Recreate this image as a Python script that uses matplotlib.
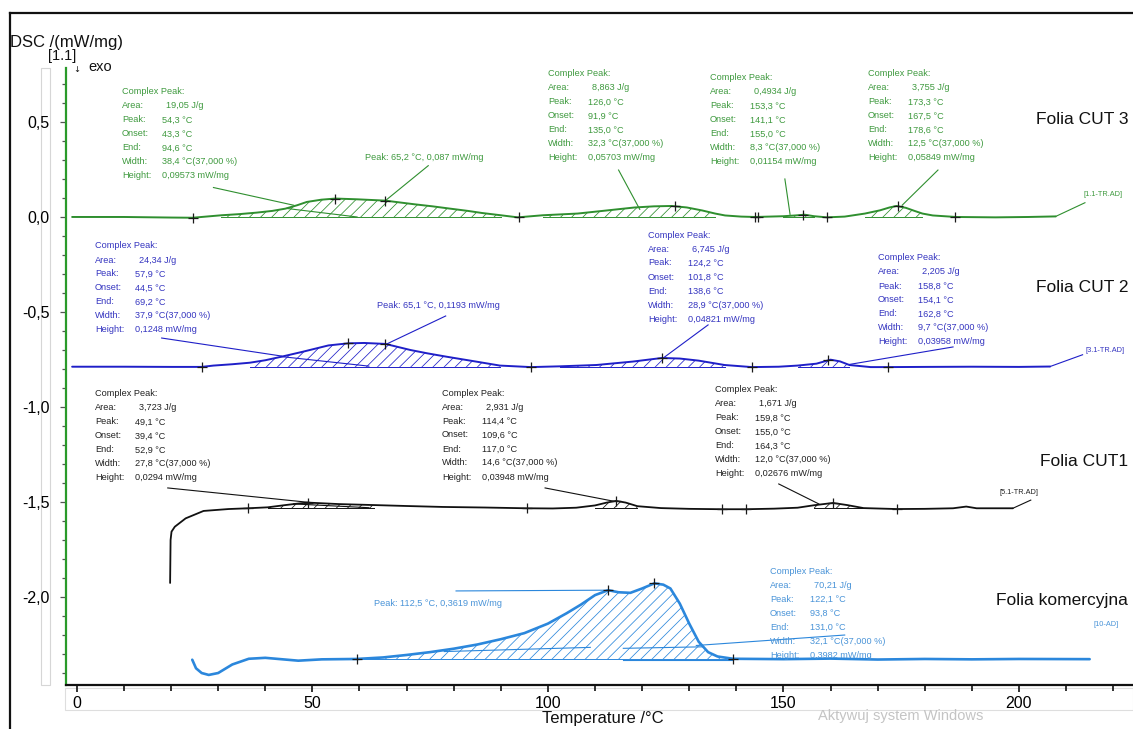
import matplotlib
matplotlib.use("Agg")
import matplotlib.pyplot as plt
import numpy as np
from matplotlib.lines import Line2D
from matplotlib.patches import Rectangle
from matplotlib.ticker import MultipleLocator, FuncFormatter

plt.rcParams['font.family'] = ['Liberation Sans', 'DejaVu Sans']
plt.rcParams['hatch.linewidth'] = 0.55

W, H = 1133, 729

# ---------------- data ----------------
green_T = [-1, 10, 20, 24.6, 30.7, 34.5, 38.2, 41.5, 44.3, 46.8, 48.8, 51.9, 54.9, 59.5, 65.5, 71.6,
           75.5, 79.2, 83, 86, 90, 93.6, 98.9, 106.3, 112, 118.4, 122.5, 126.3, 129.5, 132.8, 135.5,
           137.6, 141, 144, 150, 152.5, 154.5, 156.5, 159.2, 163, 167.3, 170.5, 172.5, 174, 176,
           177.7, 179.5, 181.7, 186.6, 195, 202, 207.8]
green_y = [0.0, 0.0, -0.003, -0.004, 0.009, 0.015, 0.023, 0.032, 0.044, 0.062, 0.079, 0.091, 0.097,
           0.093, 0.086, 0.067, 0.056, 0.044, 0.032, 0.021, 0.009, -0.002, 0.009, 0.018, 0.033, 0.050,
           0.056, 0.058, 0.050, 0.034, 0.018, 0.008, 0.002, 0.0, 0.004, 0.008, 0.012, 0.004, -0.002,
           0.002, 0.018, 0.035, 0.050, 0.058, 0.048, 0.033, 0.018, 0.008, 0.0, -0.002, 0.0, 0.003]

blue_T = [-1, 10, 20, 26.5, 29, 33, 36.7, 40, 43.5, 48, 53.4, 57.6, 61, 65.5, 70.8, 74.5, 78.4,
          84.5, 89.8, 96.4, 102.5, 110.3, 118, 124.2, 128, 132, 137.5, 143.3, 149, 153, 157, 160,
          162, 164, 168.5, 172.2, 180, 190, 200, 206.6]
blue_y = [-0.788, -0.788, -0.789, -0.789, -0.782, -0.775, -0.767, -0.754, -0.735, -0.709, -0.676,
          -0.665, -0.663, -0.668, -0.700, -0.718, -0.735, -0.760, -0.782, -0.790, -0.786, -0.779,
          -0.761, -0.742, -0.745, -0.756, -0.779, -0.790, -0.788, -0.782, -0.772, -0.751, -0.760,
          -0.779, -0.790, -0.790, -0.789, -0.788, -0.789, -0.787]

black_T = [19.8, 19.9, 20.1, 20.8, 23.1, 26.9, 32.2, 36.3, 40.5, 44.3, 47, 49, 51.5, 55.7, 63, 70,
           77.7, 86.6, 95.5, 101, 106, 110, 112.5, 114.5, 116.5, 119, 124, 130, 137, 142, 148, 153,
           156.5, 160.5, 163.5, 167, 174, 180, 186, 188.8, 191, 198.7]
black_y = [-1.926, -1.700, -1.656, -1.630, -1.586, -1.547, -1.537, -1.533, -1.528, -1.516, -1.508,
           -1.503, -1.506, -1.511, -1.516, -1.521, -1.526, -1.529, -1.533, -1.534, -1.530, -1.518,
           -1.503, -1.494, -1.503, -1.522, -1.532, -1.536, -1.538, -1.538, -1.535, -1.530, -1.517,
           -1.505, -1.516, -1.532, -1.537, -1.536, -1.533, -1.524, -1.533, -1.533]

com_T = [24.5, 25.3, 26.5, 28, 30, 33, 36.5, 40, 47, 52, 59.4, 65, 70, 75, 80, 85, 90, 95, 100,
         104, 107, 110, 112.8, 115, 117.5, 120, 122.6, 124.5, 126, 128, 130, 132, 134, 136, 139.3,
         150, 160, 170, 180, 190, 200, 215]
com_y = [-2.330, -2.375, -2.400, -2.410, -2.400, -2.355, -2.325, -2.320, -2.335, -2.328, -2.326,
         -2.318, -2.305, -2.290, -2.272, -2.250, -2.222, -2.190, -2.140, -2.085, -2.040, -1.990,
         -1.964, -1.975, -1.978, -1.955, -1.928, -1.935, -1.955, -2.035, -2.140, -2.235, -2.290,
         -2.313, -2.325, -2.327, -2.324, -2.329, -2.326, -2.328, -2.326, -2.327]

# baselines and hatched (integrated) ranges
green_base, blue_base, black_base, com_base = 0.0, -0.789, -1.533, -2.326
green_hatch = [(30.7, 90), (98.9, 135.5), (150, 156.5), (167.3, 179.5)]
blue_hatch = [(36.7, 89.8), (102.5, 137.5), (153, 164)]
black_hatch = [(40.5, 63), (110, 119), (156.5, 167)]
com_hatch = [(59.4, 139.3)]

# evaluation markers
green_mT = [24.6, 54.9, 65.5, 93.8, 127, 144, 144.7, 154.2, 159.2, 174.3, 186.4]
green_mY = [-0.004, 0.097, 0.086, -0.002, 0.057, 0.0, 0.0, 0.012, -0.002, 0.058, 0.0]
blue_mT = [26.5, 57.6, 65.5, 96.4, 124.2, 143.3, 159.5, 172.2]
blue_mY = [-0.789, -0.665, -0.668, -0.790, -0.742, -0.790, -0.751, -0.790]
black_mT = [36.3, 49, 95.5, 114.5, 137, 142, 160.5, 174]
black_mY = [-1.533, -1.503, -1.533, -1.494, -1.538, -1.538, -1.505, -1.537]
com_mT = [59.4, 112.8, 122.6, 139.3]
com_mY = [-2.326, -1.964, -1.928, -2.325]

row_names = ["Complex Peak:", "Area:", "Peak:", "Onset:", "End:", "Width:", "Height:"]
green_blocks = [
    ["19,05 J/g", "54,3 °C", "43,3 °C", "94,6 °C", "38,4 °C(37,000 %)", "0,09573 mW/mg"],
    ["8,863 J/g", "126,0 °C", "91,9 °C", "135,0 °C", "32,3 °C(37,000 %)", "0,05703 mW/mg"],
    ["0,4934 J/g", "153,3 °C", "141,1 °C", "155,0 °C", "8,3 °C(37,000 %)", "0,01154 mW/mg"],
    ["3,755 J/g", "173,3 °C", "167,5 °C", "178,6 °C", "12,5 °C(37,000 %)", "0,05849 mW/mg"],
]
blue_blocks = [
    ["24,34 J/g", "57,9 °C", "44,5 °C", "69,2 °C", "37,9 °C(37,000 %)", "0,1248 mW/mg"],
    ["6,745 J/g", "124,2 °C", "101,8 °C", "138,6 °C", "28,9 °C(37,000 %)", "0,04821 mW/mg"],
    ["2,205 J/g", "158,8 °C", "154,1 °C", "162,8 °C", "9,7 °C(37,000 %)", "0,03958 mW/mg"],
]
black_blocks = [
    ["3,723 J/g", "49,1 °C", "39,4 °C", "52,9 °C", "27,8 °C(37,000 %)", "0,0294 mW/mg"],
    ["2,931 J/g", "114,4 °C", "109,6 °C", "117,0 °C", "14,6 °C(37,000 %)", "0,03948 mW/mg"],
    ["1,671 J/g", "159,8 °C", "155,0 °C", "164,3 °C", "12,0 °C(37,000 %)", "0,02676 mW/mg"],
]
com_blocks = [
    ["70,21 J/g", "122,1 °C", "93,8 °C", "131,0 °C", "32,1 °C(37,000 %)", "0,3982 mW/mg"],
]
peak_labels = ["Peak: 65,2 °C, 0,087 mW/mg", "Peak: 65,1 °C, 0,1193 mW/mg",
               "Peak: 112,5 °C, 0,3619 mW/mg"]
series_names = ["Folia CUT 3", "Folia CUT 2", "Folia CUT1", "Folia komercyjna"]
segment_tags = ["[1.1-TR.AD]", "[3.1-TR.AD]", "[5.1-TR.AD]", "[10-AD]"]

# leader lines (data coords)
green_leaders = [((29, 0.155), (46, 0.062)), ((44.5, 0.045), (59.5, 0.0)),
                 ((74.6, 0.27), (65.6, 0.088)), ((115, 0.247), (119.5, 0.04)),
                 ((150.3, 0.20), (151.4, 0.014)), ((182.8, 0.247), (175.2, 0.062)),
                 ((207.8, 0.003), (214, 0.075))]
blue_leaders = [((18, -0.637), (43.5, -0.732)), ((43.5, -0.735), (62, -0.785)),
                ((78.3, -0.521), (65.9, -0.667)), ((134, -0.568), (124.6, -0.740)),
                ((186, -0.684), (164, -0.776)), ((206.6, -0.787), (213.5, -0.725))]
black_leaders = [((19.3, -1.426), (49.7, -1.503)), ((46, -1.510), (62, -1.530)),
                 ((99.4, -1.426), (114.2, -1.497)), ((149, -1.405), (157.5, -1.510)),
                 ((198.7, -1.533), (202.5, -1.490))]
com_leaders = [((80.5, -1.968), (112.8, -1.964)), ((131.5, -2.255), (163, -2.200)),
               ((78, -2.287), (109, -2.265)), ((116, -2.270), (133, -2.262)),
               ((116, -2.331), (139.3, -2.331))]

# ---------------- figure ----------------
def fx(px):
    return px / W

def fy(py):
    return 1 - py / H

fig = plt.figure(figsize=(W / 100, H / 100), dpi=100)
fig.patch.set_facecolor('white')
ax = fig.add_axes([fx(66), fy(685), 1 - fx(66), (685 - 68) / H])
ax.set_xlim(-2.3, 224.2)
ax.set_ylim(-2.463, 0.784)
ax.set_facecolor('none')

GREEN, GREEN_T = '#2f8f2f', '#3f9a3f'
BLUE, BLUE_T = '#1f1fc8', '#3535c0'
BLACK, BLACK_T = '#111111', '#222222'
COM, COM_T = '#2b87dc', '#4a94d8'
MARK = '#1a1a1a'

curves = [
    (green_T, green_y, green_base, green_hatch, GREEN, 1.4, green_mT, green_mY),
    (blue_T, blue_y, blue_base, blue_hatch, BLUE, 1.4, blue_mT, blue_mY),
    (black_T, black_y, black_base, black_hatch, BLACK, 1.3, black_mT, black_mY),
    (com_T, com_y, com_base, com_hatch, COM, 1.9, com_mT, com_mY),
]
for T, Y, base, hatches, col, lw, mT, mY in curves:
    T = np.array(T); Y = np.array(Y)
    for a, b in hatches:
        m = (T >= a) & (T <= b)
        ax.fill_between(T[m], Y[m], base, facecolor='none', edgecolor=col,
                        hatch='///', linewidth=0, zorder=2)
        ax.plot([a, b], [base, base], color=col, lw=0.7, zorder=2)
    ax.plot(T, Y, color=col, lw=lw, zorder=3, solid_capstyle='round')
    ax.plot(mT, mY, linestyle='none', marker='+', markersize=7, mew=0.9,
            color=MARK, zorder=4)

for leaders, col in [(green_leaders, GREEN), (blue_leaders, BLUE),
                     (black_leaders, BLACK), (com_leaders, COM)]:
    for (x0, y0), (x1, y1) in leaders:
        ax.plot([x0, x1], [y0, y1], color=col, lw=0.8, zorder=3)

# axes styling
for s in ['top', 'right']:
    ax.spines[s].set_visible(False)
ax.spines['left'].set_color('#2a9a2a')
ax.spines['left'].set_linewidth(1.6)
ax.spines['bottom'].set_color('#111111')
ax.spines['bottom'].set_linewidth(1.6)
ax.xaxis.set_major_locator(MultipleLocator(50))
ax.xaxis.set_minor_locator(MultipleLocator(10))
ax.yaxis.set_major_locator(MultipleLocator(0.5))
ax.yaxis.set_minor_locator(MultipleLocator(0.1))
ax.yaxis.set_major_formatter(FuncFormatter(lambda v, p: f"{v:.1f}".replace('.', ',').replace('-0,0', '0,0')))
ax.xaxis.set_major_formatter(FuncFormatter(lambda v, p: f"{v:.0f}"))
ax.tick_params(axis='y', which='both', direction='out', color='#555555', width=0.9,
               labelsize=11.5, pad=8)
ax.tick_params(axis='y', which='major', length=4)
ax.tick_params(axis='y', which='minor', length=3)
ax.tick_params(axis='x', which='both', direction='out', color='#111111', width=1.2,
               labelsize=11.5, pad=3)
ax.tick_params(axis='x', which='major', length=5)
ax.tick_params(axis='x', which='minor', length=4)

# text blocks
def block(x0, y0, vals, col):
    for i, name in enumerate(row_names):
        fig.text(fx(x0), fy(y0 + 14 * i), name, color=col, fontsize=6.6, va='center', ha='left')
        if i > 0:
            off = 44 if i == 1 else 40
            fig.text(fx(x0 + off), fy(y0 + 14 * i), vals[i - 1], color=col, fontsize=6.6,
                     va='center', ha='left')

for (x0, y0), vals in zip([(122, 92), (548, 74), (710, 78), (868, 74)], green_blocks):
    block(x0, y0, vals, GREEN_T)
for (x0, y0), vals in zip([(95, 246), (648, 235), (878, 258)], blue_blocks):
    block(x0, y0, vals, BLUE_T)
for (x0, y0), vals in zip([(95, 394), (442, 393), (715, 390)], black_blocks):
    block(x0, y0, vals, BLACK_T)
for (x0, y0), vals in zip([(770, 571)], com_blocks):
    block(x0, y0, vals, COM_T)

for (x0, y0), txt, col in zip([(365, 158), (377, 305), (374, 603)], peak_labels,
                              [GREEN_T, BLUE_T, COM_T]):
    fig.text(fx(x0), fy(y0), txt, color=col, fontsize=6.6, va='center', ha='left')

for y0, txt in zip([120, 287, 462, 601], series_names):
    fig.text(fx(1128), fy(y0), txt, color='#111111', fontsize=12.5, va='center', ha='right')

for (x0, y0), txt, col in zip([(1083, 195), (1085, 351), (1000, 493), (1093, 625)],
                              segment_tags, [GREEN_T, BLUE_T, BLACK_T, COM_T]):
    fig.text(fx(x0), fy(y0), txt, color=col, fontsize=5.3, va='center', ha='left')

# axis titles and header
fig.text(fx(10), fy(42), "DSC /(mW/mg)", fontsize=12, va='center', ha='left', color='#111111')
fig.text(fx(48), fy(56), "[1.1]", fontsize=10.5, va='center', ha='left', color='#111111')
fig.text(fx(73), fy(69), "↓", fontsize=6, va='center', ha='left', color='#111111',
         family='DejaVu Sans')
fig.text(fx(88), fy(67), "exo", fontsize=10.5, va='center', ha='left', color='#111111')
fig.text(fx(603), fy(718), "Temperature /°C", fontsize=12, va='center', ha='center',
         color='#111111')
fig.text(fx(818), fy(716), "Aktywuj system Windows", fontsize=10.5, va='center', ha='left',
         color='#c4c4c4')

# window chrome: frame and scroll bars
fig.add_artist(Line2D([fx(10), fx(10)], [0, fy(13)], color='#111111', lw=1.6))
fig.add_artist(Line2D([fx(10), 1], [fy(13), fy(13)], color='#111111', lw=1.6))
fig.add_artist(Rectangle((fx(41), fy(685)), (50 - 41) / W, (685 - 68) / H,
                         transform=fig.transFigure, facecolor='none', edgecolor='#d6d6d6',
                         lw=0.8, zorder=0))
fig.add_artist(Rectangle((fx(65), fy(710)), 1 - fx(65), (710 - 688) / H,
                         transform=fig.transFigure, facecolor='none', edgecolor='#dedede',
                         lw=0.8, zorder=0))

fig.savefig("out.png", dpi=100)
